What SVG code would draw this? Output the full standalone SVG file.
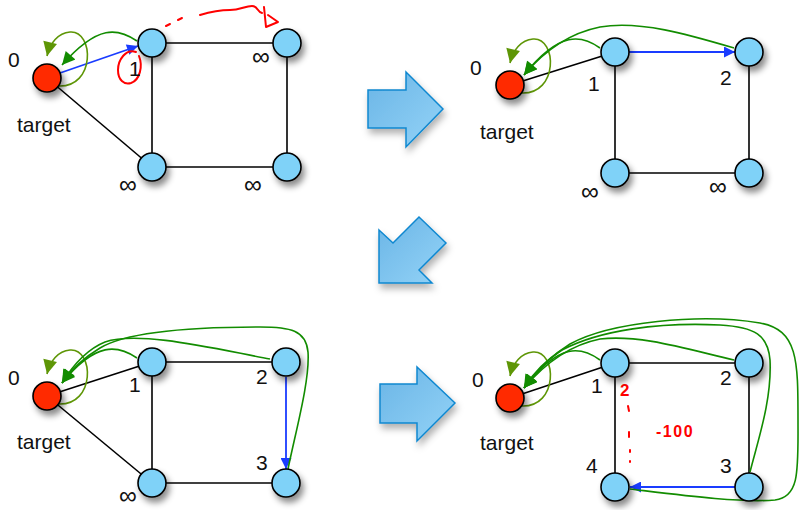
<svg xmlns="http://www.w3.org/2000/svg" width="800" height="510" viewBox="0 0 800 510">
<style>
.n{fill:#7fd2f8;stroke:#000;stroke-width:1.6;filter:url(#sh)}
.t{fill:#ff2a00;stroke:#000;stroke-width:1.6;filter:url(#sh)}
.e{stroke:#000;stroke-width:1.6;fill:none}
.b{stroke:#1a3cff;stroke-width:1.8;fill:none;marker-end:url(#ab)}
.g{stroke:#128c00;stroke-width:1.6;fill:none;marker-end:url(#ag)}
.o{stroke:#5e9606;stroke-width:1.6;fill:none;marker-end:url(#ao)}
.l{font-family:"Liberation Sans",Arial,sans-serif;font-size:21px;fill:#111}
.inf{font-family:"Liberation Sans",Arial,sans-serif;font-size:25px;fill:#111}
.r{stroke:#ff0000;stroke-width:2;fill:none;stroke-linecap:round;stroke-linejoin:round}
.rt{font-family:"Liberation Sans",Arial,sans-serif;font-weight:bold;fill:#ff0000}
.ba{fill:url(#bg);stroke:#1188d0;stroke-width:1.5;filter:url(#sh2)}
</style>
<defs>
<filter id="sh" x="-50%" y="-50%" width="200%" height="200%"><feDropShadow dx="3" dy="5" stdDeviation="3" flood-color="#000" flood-opacity="0.45"/></filter>
<filter id="sh2" x="-30%" y="-30%" width="160%" height="160%"><feDropShadow dx="2" dy="5" stdDeviation="3.5" flood-color="#000" flood-opacity="0.3"/></filter>
<linearGradient id="bg" x1="0" y1="0" x2="1" y2="1"><stop offset="0" stop-color="#6ab5e6"/><stop offset="1" stop-color="#94d3f7"/></linearGradient>
<marker id="ab" viewBox="0 0 10 10" refX="10" refY="5" markerUnits="userSpaceOnUse" markerWidth="13" markerHeight="11" orient="auto"><path d="M0,0L10,5L0,10z" fill="#1a3cff"/></marker>
<marker id="ag" viewBox="0 0 10 10" refX="10" refY="5" markerUnits="userSpaceOnUse" markerWidth="15" markerHeight="13" orient="auto"><path d="M0,0L10,5L0,10z" fill="#128c00"/></marker>
<marker id="ao" viewBox="0 0 10 10" refX="10" refY="5" markerUnits="userSpaceOnUse" markerWidth="15" markerHeight="14" orient="auto"><path d="M0,0L10,5L0,10z" fill="#5e9606"/></marker>
</defs>

<g id="bigarrows">
<path class="ba" d="M368,90H406V72L443,109L406,147V128H368Z"/>
<path class="ba" d="M379,230L393,243L419,217L446,243L419,270L432,283H379Z"/>
<path class="ba" d="M380,384H417V367L455,403L417,441V423H380Z"/>
</g>

<g id="connectors">
<!-- panel 1 -->
<line class="e" x1="47" y1="78" x2="152" y2="167"/>
<line class="e" x1="152" y1="43" x2="287" y2="43"/>
<line class="e" x1="152" y1="43" x2="152" y2="167"/>
<line class="e" x1="287" y1="43" x2="287" y2="167"/>
<line class="e" x1="152" y1="167" x2="287" y2="167"/>
<path class="b" d="M60,73L138,46"/>
<path class="o" d="M58,86C96,88 94,30 70,32C58,33 50,43 47,56"/>
<path class="g" d="M137,41C118,28 98,24 62,65"/>
<!-- panel 2 -->
<line class="e" x1="510" y1="85" x2="615" y2="52"/>
<line class="e" x1="615" y1="52" x2="615" y2="173"/>
<line class="e" x1="749" y1="52" x2="749" y2="173"/>
<line class="e" x1="615" y1="173" x2="749" y2="173"/>
<path class="b" d="M629,52L735,52"/>
<path class="o" d="M521,93C559,95 557,37 533,39C521,40 513,50 510,63"/>
<path class="g" d="M600,48C582,35 560,30 524,75"/>
<path class="g" d="M734,48C690,35 640,20 600,27C570,33 545,50 524,75"/>
<!-- panel 3 -->
<line class="e" x1="47" y1="396" x2="152" y2="362"/>
<line class="e" x1="47" y1="396" x2="152" y2="483"/>
<line class="e" x1="152" y1="362" x2="286" y2="362"/>
<line class="e" x1="152" y1="362" x2="152" y2="483"/>
<line class="e" x1="152" y1="483" x2="286" y2="483"/>
<path class="b" d="M286,377L286,469"/>
<path class="o" d="M58,404C96,406 94,348 70,350C58,351 50,361 47,374"/>
<path class="g" d="M137,358C118,345 96,341 62,383"/>
<path class="g" d="M270,359C220,350 140,330 105,342C90,348 75,362 62,383"/>
<path class="g" d="M288,469C296,430 310,380 308,352C306,330 290,327 260,327C200,327 130,330 100,348C85,357 72,368 62,383"/>
<!-- panel 4 -->
<line class="e" x1="510" y1="398" x2="615" y2="363"/>
<line class="e" x1="615" y1="363" x2="749" y2="363"/>
<line class="e" x1="615" y1="363" x2="615" y2="487"/>
<line class="e" x1="749" y1="363" x2="749" y2="487"/>
<path class="b" d="M735,487L630,487"/>
<path class="o" d="M521,406C559,408 557,350 533,352C521,353 513,363 510,376"/>
<path class="g" d="M600,360C582,347 560,341 524,388"/>
<path class="g" d="M734,360C690,350 640,334 600,339C570,345 546,362 524,388"/>
<path class="g" d="M750,472C758,440 772,400 770,360C768,335 755,327 720,325C660,322 600,330 562,350C546,360 534,372 524,388"/>
<path class="g" d="M630,489C680,495 740,503 775,500C800,497 798,470 798,420C798,360 798,330 760,323C700,313 610,322 570,344C552,355 537,370 524,388"/>
</g>

<g id="annotations">
<path class="r" d="M136,52C126,48 118,60 118,70C118,80 124,85 131,83C140,80 143,66 139,56"/>
<path class="r" d="M166,26L170,24M178,20L182,18"/>
<path class="r" d="M200,15C210,12 220,10 230,10C240,10 245,6 252,6C258,6 257,12 262,13"/>
<path class="r" d="M264,7L266,27L278,22L268,15"/>
<path class="r" d="M628,406L629,411M629,432L629,437M630,450L630,452M630,461L630,462"/>
<text class="rt" x="620" y="396" font-size="17">2</text>
<text class="rt" x="656" y="437" font-size="16" letter-spacing="1.5">-100</text>
</g>

<g id="p1-target"><circle class="t" cx="47" cy="78" r="14"/><text class="l" x="8" y="67">0</text><text class="l" x="17" y="132">target</text></g>
<g id="p1-n1"><circle class="n" cx="152" cy="43" r="14"/><text class="l" x="129" y="76">1</text></g>
<g id="p1-n2"><circle class="n" cx="287" cy="43" r="14"/><text class="inf" x="252" y="65">∞</text></g>
<g id="p1-n4"><circle class="n" cx="152" cy="167" r="14"/><text class="inf" x="119" y="193">∞</text></g>
<g id="p1-n3"><circle class="n" cx="287" cy="167" r="14"/><text class="inf" x="244" y="193">∞</text></g>

<g id="p2-target"><circle class="t" cx="510" cy="85" r="14"/><text class="l" x="470" y="75">0</text><text class="l" x="480" y="139">target</text></g>
<g id="p2-n1"><circle class="n" cx="615" cy="52" r="14"/><text class="l" x="588" y="91">1</text></g>
<g id="p2-n2"><circle class="n" cx="749" cy="52" r="14"/><text class="l" x="720" y="85">2</text></g>
<g id="p2-n4"><circle class="n" cx="615" cy="173" r="14"/><text class="inf" x="581" y="200">∞</text></g>
<g id="p2-n3"><circle class="n" cx="749" cy="173" r="14"/><text class="inf" x="709" y="195">∞</text></g>

<g id="p3-target"><circle class="t" cx="47" cy="396" r="14"/><text class="l" x="8" y="385">0</text><text class="l" x="17" y="449">target</text></g>
<g id="p3-n1"><circle class="n" cx="152" cy="362" r="14"/><text class="l" x="129" y="392">1</text></g>
<g id="p3-n2"><circle class="n" cx="286" cy="362" r="14"/><text class="l" x="256" y="384">2</text></g>
<g id="p3-n4"><circle class="n" cx="152" cy="483" r="14"/><text class="inf" x="119" y="504">∞</text></g>
<g id="p3-n3"><circle class="n" cx="286" cy="483" r="14"/><text class="l" x="256" y="470">3</text></g>

<g id="p4-target"><circle class="t" cx="510" cy="398" r="14"/><text class="l" x="472" y="387">0</text><text class="l" x="480" y="450">target</text></g>
<g id="p4-n1"><circle class="n" cx="615" cy="363" r="14"/><text class="l" x="591" y="393">1</text></g>
<g id="p4-n2"><circle class="n" cx="749" cy="363" r="14"/><text class="l" x="720" y="385">2</text></g>
<g id="p4-n4"><circle class="n" cx="615" cy="487" r="14"/><text class="l" x="586" y="473">4</text></g>
<g id="p4-n3"><circle class="n" cx="749" cy="487" r="14"/><text class="l" x="720" y="473">3</text></g>
</svg>
